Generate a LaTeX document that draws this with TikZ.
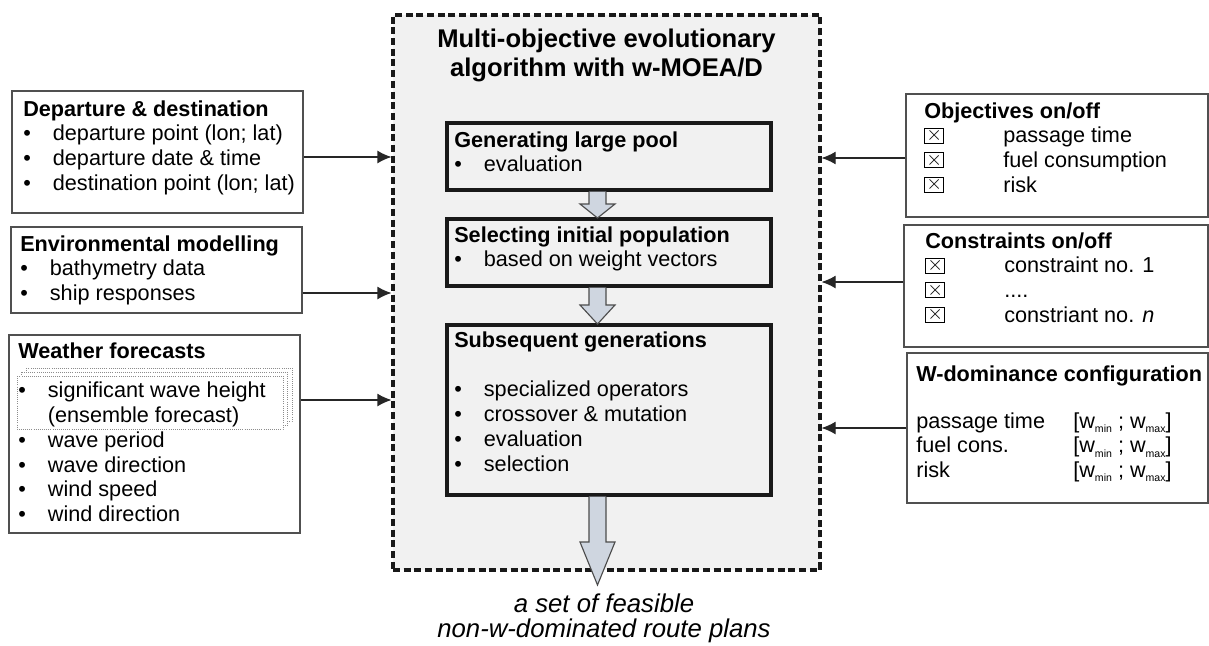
\documentclass[tikz,border=0pt]{standalone}
\usepackage{fontspec}
\setmainfont{Liberation Sans}
\usepackage{tikz}
\usetikzlibrary{arrows.meta, fit, positioning}
\definecolor{boxline}{RGB}{80, 80, 80}
\definecolor{pane}{RGB}{241, 241, 241}
\definecolor{arrowfill}{RGB}{207, 214, 224}
\newcommand{\bodyfont}{\fontsize{15.4}{17.57}\selectfont}
\newcommand{\bul}{\makebox[0.74cm][l]{\textbullet}}
\newcommand{\chk}{{\setlength{\fboxsep}{0pt}\setlength{\fboxrule}{0.7pt}%
  \framebox[14pt][c]{\rule{0pt}{10pt}\raisebox{1.6pt}{\fontsize{14}{14}\selectfont$\times$}}}}
\newcommand{\chkrow}{\makebox[1.975cm][l]{\chk}}
\newcommand{\wsub}[1]{\raisebox{-0.2em}{\fontsize{7.5}{8}\selectfont #1}}
\newcommand{\fatarrow}[4]{\filldraw[arrowbody] (#1-8.5,#2) -- (#1-8.5,#3) -- (#1-17.5,#3) -- (#1,#4)
  -- (#1+17.5,#3) -- (#1+8.5,#3) -- (#1+8.5,#2);}
\tikzset{
    sidenode/.style = {draw=boxline, line width=1pt, fill=white, rectangle, inner sep=0pt},
    stepnode/.style = {draw=black!90, line width=2.3pt, fill=pane, rectangle, inner sep=0pt},
    mainnode/.style = {draw=black!90, line width=2.2pt, dash pattern=on 5pt off 2.6pt, fill=pane,
      rectangle, inner sep=0pt},
    textnode/.style = {draw=none, fill=none, inner sep=0pt, anchor=base west, font=\bodyfont},
    connect/.style = {draw=black!85, line width=0.8pt, -{Latex[length=0.35cm, width=0.32cm]}},
    arrowbody/.style = {draw=black!70, line width=0.8pt, fill=arrowfill},
    stackbox/.style = {draw=black!45, densely dotted, line width=0.5pt, fill=white}
}

\begin{document}
\begin{tikzpicture}[x=0.025cm, y=-0.025cm]
    \useasboundingbox (0,0) rectangle (1209,645);

    \node [mainnode, name=main, fit={(393,15) (820,570)}] {};
    \node [textnode, name=title, anchor=base, font=\fontsize{18.2}{21.3}\selectfont\bfseries] at (606.5,47)
      {\parbox[t]{10cm}{\centering Multi-objective evolutionary\\ algorithm with w-MOEA/D}};

    \node [stepnode, name=gen, fit={(447,123) (771,190)}] {};
    \node [textnode, name=gentext] at (454,147)
      {\parbox[t]{9cm}{\raggedright\textbf{Generating large pool}\\ \bul evaluation}};
    \node [stepnode, name=sel, fit={(447,219) (771,286)}] {};
    \node [textnode, name=seltext] at (454,242)
      {\parbox[t]{9cm}{\raggedright\textbf{Selecting initial population}\\ \bul based on weight vectors}};
    \node [stepnode, name=sub, fit={(447,325) (771,495)}] {};
    \node [textnode, name=subtext] at (454,347)
      {\parbox[t]{9cm}{\raggedright\textbf{Subsequent generations}\\[0.63cm] \bul specialized operators\\
      \bul crossover \& mutation\\ \bul evaluation\\ \bul selection}};

    \fatarrow{597.5}{191.5}{204}{218}
    \fatarrow{597.5}{287.5}{305}{324}
    \fatarrow{597.5}{496.5}{542}{585}

    \node [textnode, name=result, anchor=base, font=\fontsize{18.3}{17.9}\selectfont\itshape] at (604,612)
      {\parbox[t]{10cm}{\centering a set of feasible\\ non-w-dominated route plans}};

    \node [sidenode, name=dep, fit={(12,91) (303,213)}] {};
    \node [textnode, name=deptext] at (23,116)
      {\parbox[t]{9cm}{\raggedright\textbf{Departure \& destination}\\ \bul departure point (lon; lat)\\
      \bul departure date \& time\\ \bul destination point (lon; lat)}};
    \node [sidenode, name=env, fit={(11,227) (302,313)}] {};
    \node [textnode, name=envtext] at (20,251)
      {\parbox[t]{9cm}{\raggedright\textbf{Environmental modelling}\\ \bul bathymetry data\\ \bul ship responses}};
    \node [sidenode, name=wea, fit={(9,335) (300,533)}] {};
    \foreach \d in {2,1,0}
      \draw [stackbox] (17+4.5*\d,376-4*\d) rectangle (283+4.5*\d,429-4*\d);
    \node [textnode, name=weatext] at (18,358)
      {\parbox[t]{9cm}{\raggedright\textbf{Weather forecasts}\\[0.38cm] \bul significant wave height\\
      \hspace*{0.74cm}(ensemble forecast)\\ \bul wave period\\ \bul wave direction\\ \bul wind speed\\
      \bul wind direction}};

    \node [sidenode, name=obj, fit={(906,94) (1208,217)}] {};
    \node [textnode, name=objtext] at (924,118)
      {\parbox[t]{9cm}{\raggedright\textbf{Objectives on/off}\\ \chkrow passage time\\
      \chkrow fuel consumption\\ \chkrow risk}};
    \node [sidenode, name=con, fit={(904,225) (1208,347)}] {};
    \node [textnode, name=context] at (925,248)
      {\parbox[t]{9cm}{\raggedright\textbf{Constraints on/off}\\ \chkrow constraint no. 1\\
      \chkrow ....\\ \chkrow constriant no. \textit{n}}};
    \node [sidenode, name=wdom, fit={(907,353) (1208,503)}] {};
    \node [textnode, name=wdomtext] at (916,381)
      {\parbox[t]{9cm}{\raggedright\textbf{W-dominance configuration}\\[0.56cm]
      \makebox[3.925cm][l]{passage time}[w\wsub{min} ; w\wsub{max}]\\
      \makebox[3.925cm][l]{fuel cons.}[w\wsub{min} ; w\wsub{max}]\\
      \makebox[3.925cm][l]{risk}[w\wsub{min} ; w\wsub{max}]}};

    \draw [connect] (dep.east |- 0,157) -- (main.west |- 0,157);
    \draw [connect] (env.east |- 0,293) -- (main.west |- 0,293);
    \draw [connect] (wea.east |- 0,400) -- (main.west |- 0,400);
    \draw [connect] (obj.west |- 0,158) -- (main.east |- 0,158);
    \draw [connect] (con.west |- 0,282) -- (main.east |- 0,282);
    \draw [connect] (wdom.west |- 0,428) -- (main.east |- 0,428);
\end{tikzpicture}
\end{document}
